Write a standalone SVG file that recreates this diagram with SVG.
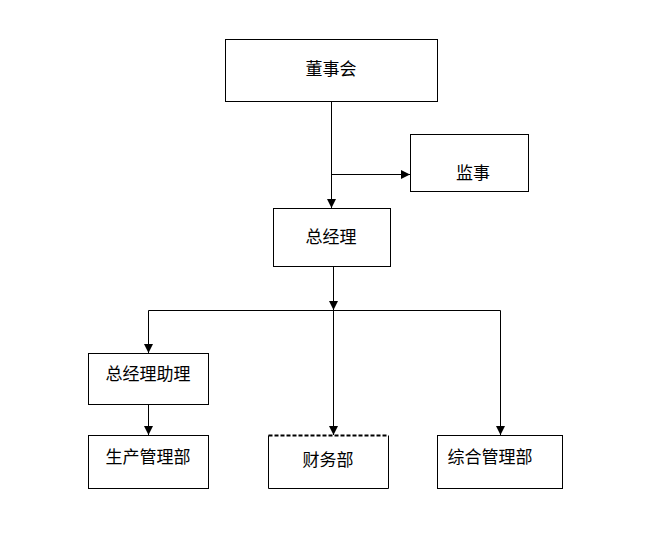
<svg xmlns="http://www.w3.org/2000/svg" width="656" height="547" viewBox="0 0 656 547">
<style>
.box{fill:#fff;stroke:#000;stroke-width:1}
.t{font-family:"Liberation Sans","Noto Sans CJK SC",sans-serif;font-size:17px;fill:#000;text-anchor:middle;dominant-baseline:central}
.c{fill:none;stroke:#000;stroke-width:1}
</style>
<defs>
<marker id="ah" viewBox="0 0 10 10" refX="10" refY="5" markerWidth="9" markerHeight="9" markerUnits="userSpaceOnUse" orient="auto">
<path d="M0,0 L10,5 L0,10 Z" fill="#000"/>
</marker>
</defs>
<rect width="656" height="547" fill="#fff"/>
<g id="connectors">
<path class="c" d="M331.5,101 V208" marker-end="url(#ah)"/>
<path class="c" d="M331.5,174.5 H410" marker-end="url(#ah)"/>
<path class="c" d="M333.5,266 V310" marker-end="url(#ah)"/>
<path class="c" d="M148.5,310.5 H500.5 V435" marker-end="url(#ah)"/>
<path class="c" d="M148.5,310.5 V353" marker-end="url(#ah)"/>
<path class="c" d="M333.5,310.5 V435" marker-end="url(#ah)"/>
<path class="c" d="M148.5,404 V435" marker-end="url(#ah)"/>
</g>
<g id="n1"><rect class="box" x="225.5" y="39.5" width="212" height="62"/><text class="t" x="331" y="69">董事会</text></g>
<g id="n2"><rect class="box" x="410.5" y="134.5" width="118" height="57"/><text class="t" x="473" y="173">监事</text></g>
<g id="n3"><rect class="box" x="273.5" y="208.5" width="117" height="58"/><text class="t" x="331" y="237">总经理</text></g>
<g id="n4"><rect class="box" x="88.5" y="353.5" width="120" height="51"/><text class="t" x="148" y="374">总经理助理</text></g>
<g id="n5"><rect class="box" x="88.5" y="435.5" width="120" height="53"/><text class="t" x="148" y="457">生产管理部</text></g>
<g id="n6"><path class="box" d="M268.5,435.5 V488.5 H388.5 V435.5"/><path d="M268.5,435.5 H388.5" stroke="#000" stroke-width="2" stroke-dasharray="4,2" fill="none"/><text class="t" x="328" y="460">财务部</text></g>
<g id="n7"><rect class="box" x="437.5" y="435.5" width="125" height="53"/><text class="t" x="490" y="457">综合管理部</text></g>
</svg>
